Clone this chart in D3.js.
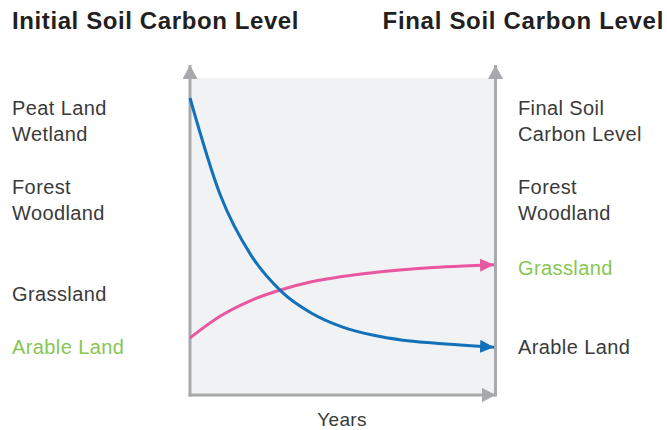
<!doctype html>
<html>
<head>
<script src="https://d3js.org/d3.v7.min.js"></script>
<style>
  body { margin: 0; background: #fff; }
  text { font-family: "Liberation Sans", Arial, Helvetica, sans-serif; }
</style>
</head>
<body>
<svg id="chart" width="667" height="430"></svg>
<script>
// years along the bottom axis
var years = [0, 1, 2, 3, 4, 5, 6, 7, 8, 9, 10];
// soil carbon level (relative, 0-100)
var peatToArable = [93.7, 63.0, 44.2, 32.7, 25.8, 21.5, 18.9, 17.3, 16.4, 15.7, 15.1];
var arableToGrass = [18.0, 24.9, 29.8, 33.2, 35.7, 37.4, 38.6, 39.5, 40.2, 40.7, 41.1];

// labels down each side and the level they sit at
var leftLabels = [["Peat Land", "Wetland"], ["Forest", "Woodland"], ["Grassland"], ["Arable Land"]];
var leftLevels = [86.4, 61.4, 31.9, 15.1];
var leftGreen = [false, false, false, true];
var rightLabels = [["Final Soil", "Carbon Level"], ["Forest", "Woodland"], ["Grassland"], ["Arable Land"]];
var rightLevels = [86.4, 61.4, 40.1, 15.1];
var rightGreen = [false, false, true, false];

var grey = "#a7a9ac", blue = "#1172ba", pink = "#e8579f", green = "#86c652", ink = "#3a3a3a";

var svg = d3.select("#chart");
var x = d3.scaleLinear().domain([0, 10]).range([190, 494]);
var y = d3.scaleLinear().domain([0, 100]).range([395, 78]);

// arrow heads
var defs = svg.append("defs");
function marker(id, color, w, h) {
  defs.append("marker")
    .attr("id", id)
    .attr("markerUnits", "userSpaceOnUse")
    .attr("viewBox", "0 0 " + w + " " + h)
    .attr("refX", w).attr("refY", h / 2)
    .attr("markerWidth", w).attr("markerHeight", h)
    .attr("orient", "auto")
    .append("path")
    .attr("d", "M0,0L" + w + "," + (h / 2) + "L0," + h + "Z")
    .attr("fill", color);
}
marker("arrGrey", grey, 14, 15);
marker("arrBlue", blue, 14, 13);
marker("arrPink", pink, 14, 13);

// plot background
svg.append("rect")
  .attr("x", x(0)).attr("y", y(100))
  .attr("width", x(10) - x(0) + 1).attr("height", y(0) - y(100))
  .attr("fill", "#f1f2f4");

// axes
var axes = svg.append("g").attr("stroke", grey).attr("stroke-width", 3).attr("fill", "none");
axes.append("line").attr("x1", x(0)).attr("y1", y(0) + 1.5).attr("x2", x(0)).attr("y2", 65)
  .attr("marker-end", "url(#arrGrey)");
axes.append("line").attr("x1", x(10) + 1.5).attr("y1", y(0) + 1.5).attr("x2", x(10) + 1.5).attr("y2", 65)
  .attr("marker-end", "url(#arrGrey)");
axes.append("line").attr("x1", x(0) - 1.5).attr("y1", y(0)).attr("x2", x(10) + 1.5).attr("y2", y(0))
  .attr("marker-end", "url(#arrGrey)");

// curves
var line = d3.line()
  .x(function(d, i) { return x(years[i]); })
  .y(function(d) { return y(d); })
  .curve(d3.curveMonotoneX);

svg.append("path").datum(arableToGrass)
  .attr("d", line).attr("fill", "none")
  .attr("stroke", pink).attr("stroke-width", 3)
  .attr("marker-end", "url(#arrPink)");
svg.append("path").datum(peatToArable)
  .attr("d", line).attr("fill", "none")
  .attr("stroke", blue).attr("stroke-width", 3)
  .attr("marker-end", "url(#arrBlue)");

// side labels
function labels(list, levels, greens, xpos) {
  list.forEach(function(lines, k) {
    var t = svg.append("text")
      .attr("x", xpos)
      .attr("font-size", 20)
      .attr("letter-spacing", 0.4)
      .attr("fill", greens[k] ? green : ink);
    lines.forEach(function(s, i) {
      t.append("tspan")
        .attr("x", xpos)
        .attr("y", y(levels[k]) + (i - (lines.length - 1) / 2) * 26 + 7)
        .text(s);
    });
  });
}
labels(leftLabels, leftLevels, leftGreen, 12);
labels(rightLabels, rightLevels, rightGreen, 518);

// titles
svg.append("text").attr("x", 12).attr("y", 29)
  .attr("font-size", 24).attr("font-weight", "bold").attr("letter-spacing", 0.6)
  .attr("fill", "#231f20").text("Initial Soil Carbon Level");
svg.append("text").attr("x", 664).attr("y", 29).attr("text-anchor", "end")
  .attr("font-size", 24).attr("font-weight", "bold").attr("letter-spacing", 0.7)
  .attr("fill", "#231f20").text("Final Soil Carbon Level");

svg.append("text").attr("x", (x(0) + x(10)) / 2).attr("y", 426)
  .attr("text-anchor", "middle").attr("font-size", 19).attr("letter-spacing", 0.3)
  .attr("fill", ink).text("Years");
</script>
</body>
</html>
